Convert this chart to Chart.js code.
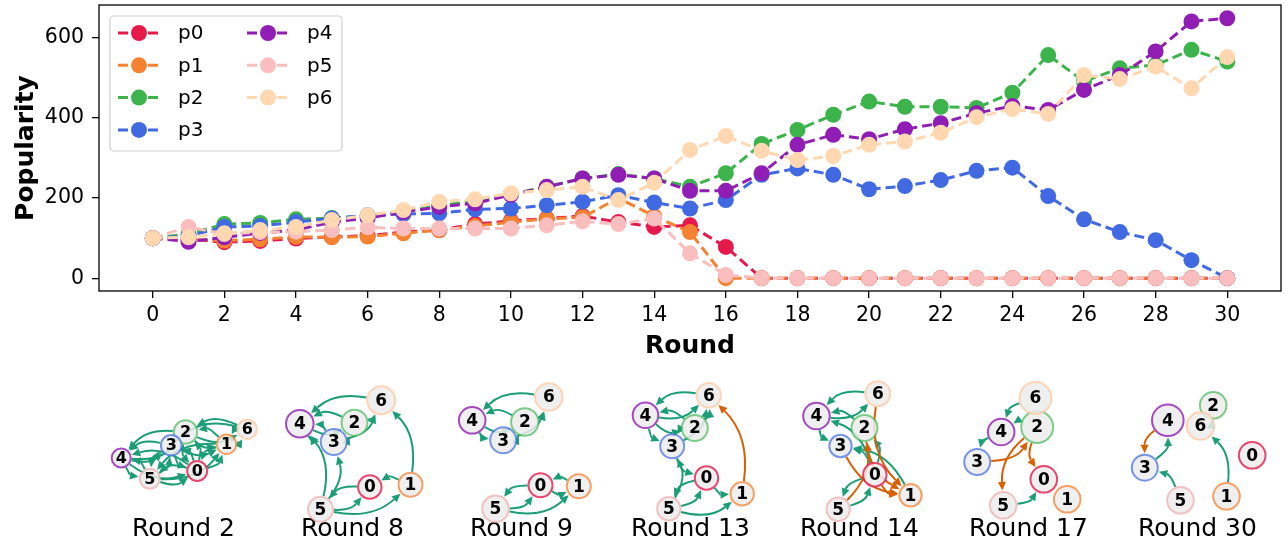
<!DOCTYPE html>
<html>
<head>
<meta charset="utf-8">
<script src="https://cdn.jsdelivr.net/npm/chart.js@4.4.1/dist/chart.umd.min.js"></script>
<style>
  html, body { margin: 0; padding: 0; background: #fff; }
  #wrap { position: relative; width: 1288px; height: 546px; overflow: hidden; }
  #main { position: absolute; left: 0; top: 0; width: 1288px; height: 365px; }
  .panel { position: absolute; top: 365px; width: 169px; height: 181px; }
</style>
</head>
<body>
<div id="wrap">
  <div id="main"><canvas id="mainChart"></canvas></div>
</div>
<script>
// ---- popularity per round ----
const rounds = [0, 1, 2, 3, 4, 5, 6, 7, 8, 9, 10, 11, 12, 13, 14, 15, 16, 17, 18, 19, 20, 21, 22, 23, 24, 25, 26, 27, 28, 29, 30];
const p0 = [100, 97, 90, 93, 99, 103, 106, 115, 120, 135, 143, 149, 155, 140, 128, 132, 78, 0, 0, 0, 0, 0, 0, 0, 0, 0, 0, 0, 0, 0, 0];
const p1 = [100, 97, 94, 97, 103, 102, 104, 112, 120, 130, 140, 148, 152, 200, 155, 115, 0, 0, 0, 0, 0, 0, 0, 0, 0, 0, 0, 0, 0, 0, 0];
const p2 = [100, 110, 135, 138, 147, 150, 155, 168, 180, 195, 210, 228, 249, 260, 249, 228, 262, 335, 370, 408, 441, 428, 428, 425, 463, 557, 491, 524, 532, 570, 541];
const p3 = [100, 105, 128, 130, 140, 149, 157, 160, 162, 172, 174, 182, 191, 207, 189, 174, 195, 258, 274, 258, 222, 230, 245, 268, 276, 205, 147, 115, 95, 45, 0];
const p4 = [100, 91, 102, 113, 120, 140, 150, 165, 178, 187, 208, 228, 249, 258, 249, 218, 218, 262, 333, 358, 347, 372, 387, 412, 430, 420, 470, 507, 566, 641, 649];
const p5 = [100, 128, 110, 115, 116, 120, 127, 124, 124, 124, 124, 132, 142, 135, 149, 62, 8, 0, 0, 0, 0, 0, 0, 0, 0, 0, 0, 0, 0, 0, 0];
const p6 = [100, 102, 112, 120, 128, 145, 157, 170, 191, 197, 212, 220, 228, 195, 238, 320, 355, 318, 295, 305, 333, 341, 363, 402, 422, 410, 507, 497, 528, 474, 552];
const seriesNames = ['p0', 'p1', 'p2', 'p3', 'p4', 'p5', 'p6'];
const xTicks = [0, 2, 4, 6, 8, 10, 12, 14, 16, 18, 20, 22, 24, 26, 28, 30];
const yTicks = [0, 200, 400, 600];

// ---- network snapshots (node layout positions, edges) ----
const snapRounds = [2, 8, 9, 13, 14, 17, 30];
const r2X = [98.2, 127.5, 86.5, 72.2, 22.2, 50.8, 148.2];
const r2Y = [43, 69.7, 82, 68.7, 56, 35.3, 84.7];
const r2Edges = [[4,3,'g'],[3,4,'g'],[4,2,'g'],[2,4,'g'],[0,4,'g'],[4,0,'g'],[5,4,'g'],[4,5,'g'],[5,0,'g'],[0,5,'g'],
                 [3,5,'g'],[5,3,'g'],[0,3,'g'],[3,0,'g'],[2,0,'g'],[0,2,'g'],[1,0,'g'],[0,1,'g'],[1,2,'g'],[2,1,'g'],
                 [6,2,'g'],[2,6,'g'],[6,1,'g'],[1,6,'g'],[3,1,'g'],[5,1,'g'],[6,3,'g'],[1,5,'g']];
const r8X = [101.8, 142.5, 86.5, 65.8, 31.8, 52.5, 113.2];
const r8Y = [27, 29.3, 91.3, 72, 90.3, 4.7, 113.7];
const r8Edges = [[6,4,'g'],[2,4,'g'],[4,2,'g'],[3,4,'g'],[4,3,'g'],[2,6,'g'],[3,2,'g'],[3,6,'g'],
                 [5,4,'g'],[5,3,'g'],[0,5,'g'],[5,0,'g'],[5,1,'g'],[1,0,'g'],[1,6,'g']];
const r9X = [103.5, 141.8, 87.8, 66.2, 35.2, 58.5, 111.8];
const r9Y = [28.7, 27.7, 92, 73.7, 93.7, 5.3, 117];
const r9Edges = [[6,4,'g'],[2,4,'g'],[4,2,'g'],[4,3,'g'],[3,2,'g'],[2,6,'g'],[3,6,'g'],
                 [0,5,'g'],[5,0,'g'],[1,0,'g'],[0,1,'g'],[5,1,'g']];
const r13X = [100.5, 136.2, 88.8, 66.2, 39.5, 62.8, 102.8];
const r13Y = [36, 20.3, 86, 67.7, 98.7, 5.3, 118.7];
const r13Edges = [[6,4,'g'],[4,6,'g'],[2,4,'g'],[4,2,'g'],[3,6,'g'],[2,6,'g'],[4,3,'g'],[2,3,'g'],
                  [3,0,'g'],[0,1,'g'],[5,3,'g'],[0,5,'g'],[5,0,'g'],[5,1,'g'],[1,6,'o']];
const r14X = [99.8, 135.5, 89.5, 65.5, 41.5, 63.2, 102.8];
const r14Y = [39.3, 18.7, 86, 68, 98, 4.7, 120.3];
const r14Edges = [[6,4,'g'],[4,6,'g'],[0,4,'g'],[2,4,'g'],[4,3,'g'],[0,3,'g'],[0,2,'g'],[5,0,'g'],[0,5,'g'],[1,3,'g'],
                  [6,1,'o'],[2,1,'o'],[3,1,'o'],[5,2,'o'],[0,1,'o']];
const r17X = [99.8, 123.2, 93.2, 33.2, 57.2, 59.2, 91.5];
const r17Y = [34.7, 14.7, 87, 52, 82, 8.7, 116];
const r17Edges = [[6,4,'g'],[4,3,'g'],[2,4,'g'],[3,2,'o'],[2,5,'o'],[2,0,'o'],[5,0,'g']];
const r30X = [139.2, 113.5, 100.2, 31.8, 54.8, 67.5, 87.5];
const r30Y = [58.7, 17.7, 108.7, 46.3, 93.7, 13.7, 88];
const r30Edges = [[4,3,'o'],[3,4,'g'],[5,3,'g'],[1,6,'g'],[6,2,'g']];

// ---- styles ----
const FONT = 'DejaVu Sans';
const seriesColors = ['#e6194b', '#f58231', '#3cb44b', '#4169e1', '#911eb4', '#fabebe', '#ffd8b1'];
const nodeBorders = ['rgba(230,25,75,0.8)', 'rgba(245,130,49,0.75)', 'rgba(60,180,75,0.65)', 'rgba(65,105,225,0.7)',
                     'rgba(145,30,180,0.8)', 'rgba(240,170,170,0.7)', 'rgba(255,200,160,0.75)'];
const edgeColors = { g: '#1b9e77', o: '#d95f02' };
const panelRadius = [
  [10, 9.7, 11.7, 10.3, 9.5, 10, 9.7],
  [11.7, 12, 13, 13, 13.8, 12.5, 14],
  [12, 12, 13.7, 13, 13.3, 13.3, 13.8],
  [11.7, 11.7, 13, 12, 12.8, 11.7, 12.2],
  [11.7, 11.2, 13, 11.2, 13.3, 11.7, 12.5],
  [13.3, 13.3, 16, 13, 13.3, 13.3, 16],
  [13.3, 13.3, 13.3, 13, 15.8, 13.3, 13.7]
];

// ---- main chart ----
const seriesValues = [p0, p1, p2, p3, p4, p5, p6];

const frame = {
  id: 'frame',
  afterDatasetsDraw(chart) {
    const { ctx, chartArea: a } = chart;
    ctx.save();
    ctx.strokeStyle = '#000';
    ctx.lineWidth = 1.3;
    ctx.strokeRect(a.left, a.top, a.right - a.left, a.bottom - a.top);
    ctx.restore();
  }
};

const boxLegend = {
  id: 'boxLegend',
  afterDraw(chart) {
    const { ctx, chartArea: a } = chart;
    const x0 = a.left + 11, y0 = a.top + 11, w = 232, h = 135, r = 4;
    ctx.save();
    ctx.beginPath();
    ctx.moveTo(x0 + r, y0);
    ctx.arcTo(x0 + w, y0, x0 + w, y0 + h, r);
    ctx.arcTo(x0 + w, y0 + h, x0, y0 + h, r);
    ctx.arcTo(x0, y0 + h, x0, y0, r);
    ctx.arcTo(x0, y0, x0 + w, y0, r);
    ctx.closePath();
    ctx.fillStyle = 'rgba(255,255,255,0.8)';
    ctx.fill();
    ctx.strokeStyle = '#d0d0d0';
    ctx.lineWidth = 1.2;
    ctx.stroke();
    chart.data.datasets.forEach((ds, i) => {
      const col = Math.floor(i / 4), row = i % 4;
      const lx = x0 + 8 + col * 129;
      const ly = y0 + 17 + row * 32.3;
      ctx.strokeStyle = ds.borderColor;
      ctx.lineWidth = 3;
      ctx.setLineDash([10, 5]);
      ctx.beginPath();
      ctx.moveTo(lx, ly);
      ctx.lineTo(lx + 42, ly);
      ctx.stroke();
      ctx.setLineDash([]);
      ctx.fillStyle = ds.borderColor;
      ctx.beginPath();
      ctx.arc(lx + 21, ly, 8, 0, Math.PI * 2);
      ctx.fill();
      ctx.fillStyle = '#000';
      ctx.font = '20px "' + FONT + '"';
      ctx.textAlign = 'left';
      ctx.textBaseline = 'middle';
      ctx.fillText(ds.label, lx + 60, ly + 1);
    });
    ctx.restore();
  }
};

new Chart(document.getElementById('mainChart'), {
  type: 'line',
  data: {
    datasets: seriesValues.map((vals, i) => ({
      label: seriesNames[i],
      data: rounds.map((r, k) => ({ x: r, y: vals[k] })),
      borderColor: seriesColors[i],
      backgroundColor: seriesColors[i],
      pointBackgroundColor: seriesColors[i],
      borderWidth: 3,
      borderDash: [10, 5],
      pointRadius: 8,
      pointBorderWidth: 0,
      pointHoverRadius: 8,
      tension: 0,
      order: 6 - i
    }))
  },
  options: {
    responsive: true,
    maintainAspectRatio: false,
    animation: false,
    events: [],
    layout: { autoPadding: false, padding: { top: 5, right: 7, left: 0, bottom: 0 } },
    plugins: { legend: { display: false }, tooltip: { enabled: false } },
    scales: {
      x: {
        type: 'linear',
        min: -1.5,
        max: 31.5,
        afterBuildTicks: s => { s.ticks = xTicks.map(v => ({ value: v })); },
        afterFit: s => { s.height = 74; s.paddingLeft = 0; s.paddingRight = 0; },
        grid: { display: true, drawOnChartArea: false, drawTicks: true, tickLength: 7, color: '#000', lineWidth: 1.3 },
        border: { display: false },
        ticks: { color: '#000', font: { family: FONT, size: 20.5 }, padding: 5, maxRotation: 0, autoSkip: false },
        title: { display: true, text: 'Round', color: '#000', font: { family: FONT, size: 25, weight: 'bold' }, padding: { top: 0, bottom: 4 } }
      },
      y: {
        min: -32,
        max: 682,
        afterBuildTicks: s => { s.ticks = yTicks.map(v => ({ value: v })); },
        afterFit: s => { s.width = 99; s.paddingTop = 0; s.paddingBottom = 0; },
        grid: { display: true, drawOnChartArea: false, drawTicks: true, tickLength: 7, color: '#000', lineWidth: 1.3 },
        border: { display: false },
        ticks: { color: '#000', font: { family: FONT, size: 20.5 }, padding: 8 },
        title: { display: true, text: 'Popularity', color: '#000', font: { family: FONT, size: 25, weight: 'bold' }, padding: { top: 11, bottom: 0 } }
      }
    }
  },
  plugins: [frame, boxLegend]
});

// ---- network panels ----
function arrow(ctx, a, b, rs, rt, color) {
  const dx = b.x - a.x, dy = b.y - a.y;
  const rad = 0.25;
  const cx = (a.x + b.x) / 2 - rad * dy, cy = (a.y + b.y) / 2 + rad * dx;
  const ux = cx - a.x, uy = cy - a.y, ul = Math.hypot(ux, uy) || 1;
  const sx = a.x + ux / ul * (rs + 1), sy = a.y + uy / ul * (rs + 1);
  const vx = b.x - cx, vy = b.y - cy, vl = Math.hypot(vx, vy) || 1;
  const tx = vx / vl, ty = vy / vl;
  const ex = b.x - tx * (rt + 1.5), ey = b.y - ty * (rt + 1.5);
  const hl = 8.5, hw = 4;
  const hx = ex - tx * hl, hy = ey - ty * hl;
  ctx.strokeStyle = color;
  ctx.fillStyle = color;
  ctx.lineWidth = 2;
  ctx.beginPath();
  ctx.moveTo(sx, sy);
  ctx.quadraticCurveTo(cx, cy, hx, hy);
  ctx.stroke();
  ctx.beginPath();
  ctx.moveTo(ex, ey);
  ctx.lineTo(hx - ty * hw, hy + tx * hw);
  ctx.lineTo(hx + ty * hw, hy - tx * hw);
  ctx.closePath();
  ctx.fill();
}

const snapData = [
  [r2X, r2Y, r2Edges], [r8X, r8Y, r8Edges], [r9X, r9Y, r9Edges], [r13X, r13Y, r13Edges],
  [r14X, r14Y, r14Edges], [r17X, r17Y, r17Edges], [r30X, r30Y, r30Edges]
];

const wrap = document.getElementById('wrap');
snapRounds.forEach((round, i) => {
  const [xs, ys, edges] = snapData[i];
  const radii = panelRadius[i];
  const div = document.createElement('div');
  div.className = 'panel';
  div.style.left = (98.5 + 169 * i) + 'px';
  const cv = document.createElement('canvas');
  div.appendChild(cv);
  wrap.appendChild(div);

  const edgeLayer = {
    id: 'edgeLayer',
    beforeDatasetsDraw(chart) {
      const pts = chart.getDatasetMeta(0).data;
      const ctx = chart.ctx;
      ctx.save();
      edges.forEach(([s, t, c]) => arrow(ctx, pts[s], pts[t], radii[s], radii[t], edgeColors[c]));
      ctx.restore();
    },
    afterDatasetsDraw(chart) {
      const pts = chart.getDatasetMeta(0).data;
      const ctx = chart.ctx;
      ctx.save();
      ctx.fillStyle = '#000';
      ctx.font = 'bold ' + (i === 0 ? 16 : 17) + 'px "' + FONT + '"';
      ctx.textAlign = 'center';
      ctx.textBaseline = 'middle';
      pts.forEach((p, k) => ctx.fillText(String(k), p.x, p.y + 1));
      ctx.restore();
    }
  };

  new Chart(cv, {
    type: 'scatter',
    data: {
      datasets: [{
        data: xs.map((x, k) => ({ x: x, y: ys[k] })),
        pointRadius: radii,
        pointBackgroundColor: 'rgba(236,236,236,0.85)',
        pointBorderColor: nodeBorders,
        pointBorderWidth: 2,
        clip: false
      }]
    },
    options: {
      responsive: true,
      maintainAspectRatio: false,
      animation: false,
      events: [],
      layout: { autoPadding: false, padding: 0 },
      scales: {
        x: { display: false, min: 0, max: 169 },
        y: { display: false, min: 0, max: 149 }
      },
      plugins: {
        legend: { display: false },
        tooltip: { enabled: false },
        title: {
          display: true, position: 'bottom', text: 'Round ' + round, color: '#000',
          font: { family: FONT, size: 25, weight: 'normal' }, padding: { top: 0, bottom: 2 }
        }
      }
    },
    plugins: [edgeLayer]
  });
});
</script>
</body>
</html>
